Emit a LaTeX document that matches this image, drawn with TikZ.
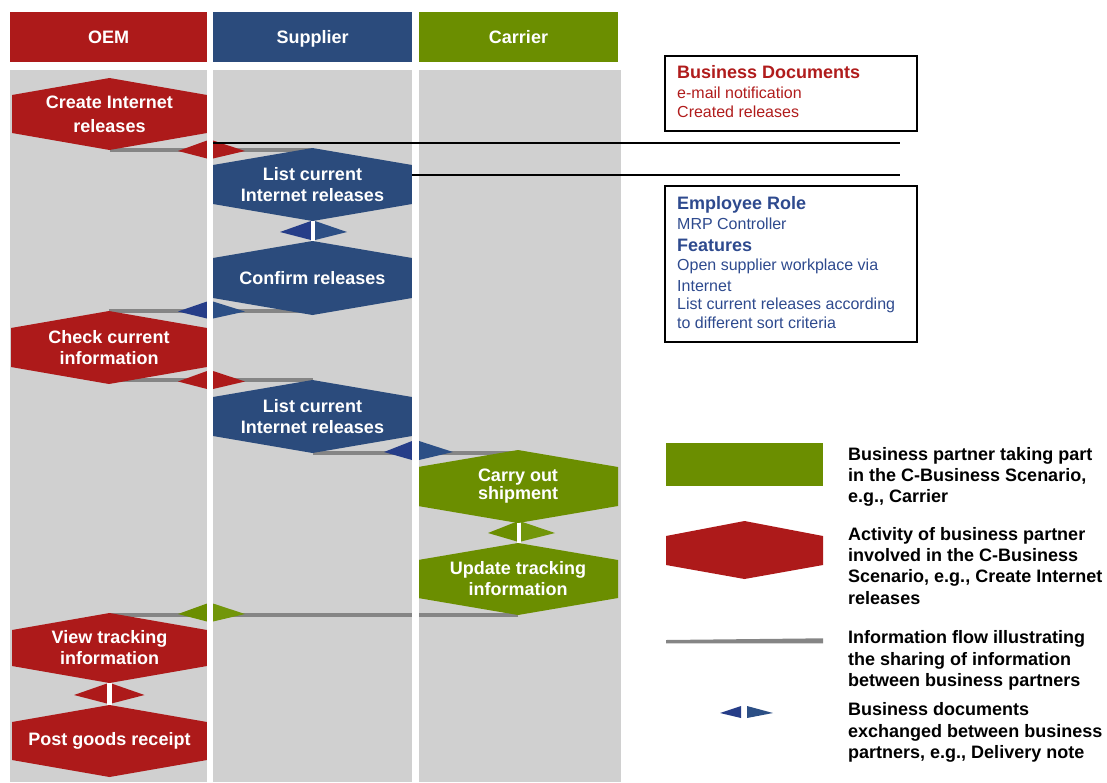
\documentclass[tikz,border=0pt]{standalone}
\usepackage{fontspec}
\setmainfont{Liberation Sans}
\definecolor{oemred}{HTML}{AD1A1A}
\definecolor{supblue}{HTML}{2B4B7C}
\definecolor{cargreen}{HTML}{6B8E00}
\definecolor{lanegray}{HTML}{D0D0D0}
\definecolor{flowgray}{HTML}{858585}
\definecolor{docblueL}{HTML}{263D88}
\definecolor{docblueR}{HTML}{2C4F85}
\definecolor{docgreenL}{HTML}{6B8E00}
\definecolor{docgreenR}{HTML}{72960A}
\definecolor{txtblue}{HTML}{2E4A8E}
\definecolor{txtred}{HTML}{B01C1C}
\pgfdeclarelayer{back}
\pgfdeclarelayer{bg}
\pgfsetlayers{back,bg,main}
\tikzset{
  flow/.style={draw=flowgray, line width=4.5pt},
  acttext/.style={text=white, font=\bfseries\fontsize{18}{21}\selectfont, align=center, inner sep=0pt},
  hdr/.style={text=white, font=\bfseries\fontsize{18}{21}\selectfont, inner sep=0pt, minimum height=50pt, text height=13pt, text depth=0pt},
  infobox/.style={draw=black, line width=2.4pt, anchor=north west, inner sep=0pt},
  lead/.style={draw=black, line width=2.2pt},
  boldln/.style={anchor=base west, inner sep=0pt, font=\bfseries\fontsize{18}{21}\selectfont},
  regln/.style={anchor=base west, inner sep=0pt, font=\fontsize{16}{19}\selectfont},
  lgtext/.style={anchor=base west, inner sep=0pt, font=\bfseries\fontsize{18}{21}\selectfont, text=black},
}
% hexagon activity: name, xleft, xright, ytop, ybottom, colour, text
\newcommand\HexAct[7]{%
  \fill[#6] ({(#2+#3)/2},#4) -- (#3,{#4+17}) -- (#3,{#5-17}) -- ({(#2+#3)/2},#5)
     -- (#2,{#5-17}) -- (#2,{#4+17}) -- cycle;
  \coordinate (#1-t) at ({(#2+#3)/2},#4);
  \coordinate (#1-b) at ({(#2+#3)/2},#5);
  \node[acttext] (#1) at ({(#2+#3)/2},{(#4+#5)/2}) {#7};}
% document pair: name, xleftbase, xrightbase, ytip, wl, wr, colL, colR, halfheight
\newcommand\DocPair[9]{%
  \fill[#7] (#2,{#4-#9-1.5}) -- ({#2-#5},#4) -- (#2,{#4+#9-1.5}) -- cycle;
  \fill[#8] (#3,{#4-#9-1.5}) -- ({#3+#6},#4) -- (#3,{#4+#9-1.5}) -- cycle;
  \coordinate (#1) at ({(#2+#3)/2},#4);}
\begin{document}
\begin{tikzpicture}[x=1pt,y=-1pt]
\useasboundingbox (0,0) rectangle (1107,782);
\begin{pgfonlayer}{back}
  \fill[lanegray] (10,70) rectangle (621,782);
\end{pgfonlayer}
% headers
\node[hdr, fill=oemred, minimum width=197pt] (hoem) at (108.5,37) {OEM};
\node[hdr, fill=supblue, minimum width=199pt] (hsup) at (312.5,37) {Supplier};
\node[hdr, fill=cargreen, minimum width=199pt] (hcar) at (518.5,37) {Carrier};
% activities
\HexAct{create}{12}{207}{78}{150}{oemred}{Create Internet\\[3pt]releases}
\HexAct{listA}{213}{412}{148}{221}{supblue}{List current\\Internet releases}
\HexAct{confirm}{213}{412}{241}{315}{supblue}{Confirm releases}
\HexAct{check}{11}{207}{311}{384}{oemred}{Check current\\information}
\HexAct{listB}{213}{412}{380}{453}{supblue}{List current\\Internet releases}
\HexAct{carry}{418}{618}{450}{523}{cargreen}{Carry out\\[-3pt]shipment}
\HexAct{update}{418}{618}{543}{615}{cargreen}{Update tracking\\information}
\HexAct{view}{12}{207}{613}{683}{oemred}{View tracking\\information}
\HexAct{post}{12}{207}{705}{777}{oemred}{Post goods receipt}
% information flows
\begin{pgfonlayer}{bg}
  \draw[flow] (create-b) -- (create-b -| listA-t);
  \draw[flow] (check-t) -- (check-t -| confirm-b);
  \draw[flow] (listB-t) -- (listB-t -| check-b);
  \draw[flow] (listB-b) -- (listB-b -| carry-t);
  \draw[flow] (update-b) -- (update-b -| view-t);
\end{pgfonlayer}
% documents
\DocPair{d1}{207}{213}{151}{29}{32}{oemred}{oemred}{9}
\DocPair{d2}{311}{315}{232}{31}{32}{docblueL}{docblueR}{9.5}
\DocPair{d3}{207}{213}{311.5}{29}{32}{docblueL}{docblueR}{8.5}
\DocPair{d4}{207}{213}{381.5}{29}{32}{oemred}{oemred}{9}
\DocPair{d5}{412}{419}{452}{28}{34}{docblueL}{docblueR}{9.5}
\DocPair{d6}{517}{521}{533}{29}{34}{docgreenL}{docgreenR}{10}
\DocPair{d7}{207}{213}{614}{29}{32}{docgreenL}{docgreenR}{9}
\DocPair{d8}{107}{111.5}{695}{33}{33}{oemred}{oemred}{10}
% white bars between stacked activities
\fill[white] (listA-b -| 311,0) rectangle (confirm-t -| 315,0);
\fill[white] (carry-b -| 517,0) rectangle (update-t -| 521,0);
\fill[white] (view-b -| 107,0) rectangle (post-t -| 111.5,0);
% lane separators
\fill[white] (207,62) rectangle (213,782);
\fill[white] (412,62) rectangle (419,782);
% lead lines to info boxes
\coordinate (bdA) at (213,143);
\coordinate (bdB) at (900,143);
\coordinate (erA) at (412,175);
\coordinate (erB) at (900,175);
\draw[lead] (bdA) -- (bdB);
\draw[lead] (erA) -- (erB);
% info boxes
\node[infobox, minimum width=252pt, minimum height=75pt] (bdbox) at (664,55) {};
\node[boldln, text=txtred] (bd1) at (677,78.5) {Business Documents};
\node[regln, text=txtred] (bd2) at (677,98.7) {e-mail notification};
\node[regln, text=txtred] (bd3) at (677,117.7) {Created releases};
\node[infobox, minimum width=252pt, minimum height=156pt] (erbox) at (664,185) {};
\node[boldln, text=txtblue] (er1) at (677,209.4) {Employee Role};
\node[regln, text=txtblue] (er2) at (677,229.7) {MRP Controller};
\node[boldln, text=txtblue] (er3) at (677,251.4) {Features};
\node[regln, text=txtblue] (er4) at (677,270.7) {Open supplier workplace via};
\node[regln, text=txtblue] (er5) at (677,291.7) {Internet};
\node[regln, text=txtblue] (er6) at (677,309.7) {List current releases according};
\node[regln, text=txtblue] (er7) at (677,328.7) {to different sort criteria};
% legend
\fill[cargreen] (666,443) rectangle (823,486);
\fill[oemred] (744.5,521) -- (823,536) -- (823,565) -- (744.5,579) -- (666,565) -- (666,536) -- cycle;
\fill[flowgray] (666,640) -- (823,638.3) -- (823,643.3) -- (666,643.3) -- cycle;
\fill[docblueL] (741,706) -- (720,713) -- (741,718) -- cycle;
\fill[docblueR] (747,706) -- (773,713) -- (747,718) -- cycle;
\node[lgtext] (l1a) at (848,460) {Business partner taking part};
\node[lgtext] (l1b) at (848,481.7) {in the C-Business Scenario,};
\node[lgtext] (l1c) at (848,502) {e.g., Carrier};
\node[lgtext] (l2a) at (848,540) {Activity of business partner};
\node[lgtext] (l2b) at (848,561.7) {involved in the C-Business};
\node[lgtext] (l2c) at (848,582.7) {Scenario, e.g., Create Internet};
\node[lgtext] (l2d) at (848,604) {releases};
\node[lgtext] (l3a) at (848,643.3) {Information flow illustrating};
\node[lgtext] (l3b) at (848,665) {the sharing of information};
\node[lgtext] (l3c) at (848,686) {between business partners};
\node[lgtext] (l4a) at (848,715.7) {Business documents};
\node[lgtext] (l4b) at (848,737.3) {exchanged between business};
\node[lgtext] (l4c) at (848,758.3) {partners, e.g., Delivery note};
\end{tikzpicture}
\end{document}
